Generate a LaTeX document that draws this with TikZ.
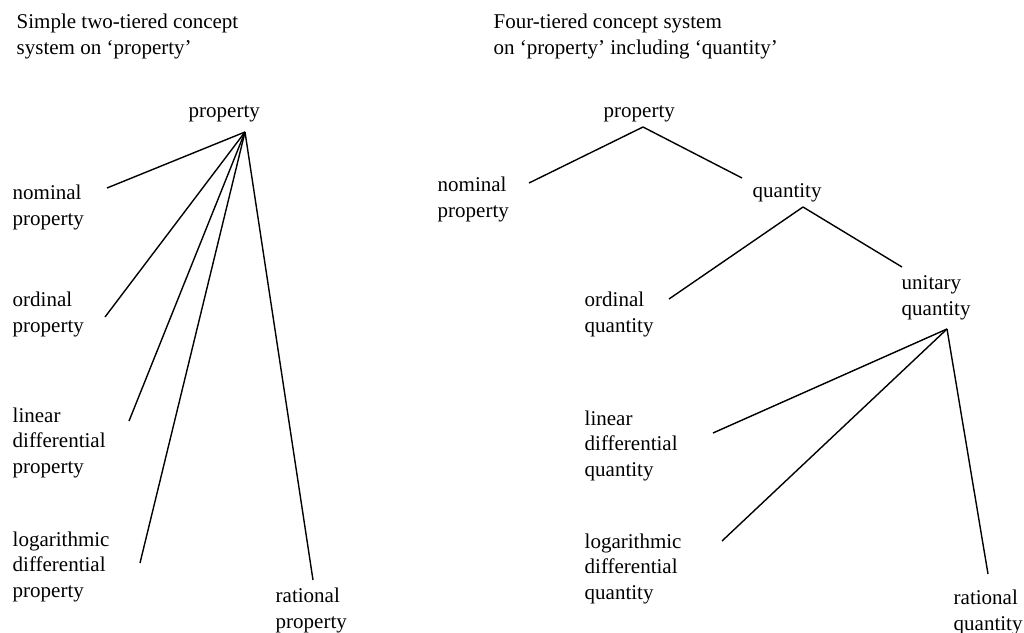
\documentclass[tikz,border=0pt]{standalone}
\usepackage{fontspec}
\setmainfont{Liberation Serif}
\usepackage{xcolor}

\begin{document}
\begin{tikzpicture}[x=1pt,y=-1pt,line width=1.4pt]
\tikzstyle{every node}+=[inner sep=0pt]
\tikzstyle{lbl}=[anchor=base west, align=left, font=\fontsize{21}{25.3}\selectfont]
\useasboundingbox (0,0) rectangle (1024,632);
% titles (base = last line)
\node [lbl] (ltitle) at (16,54) {Simple two-tiered concept\\system on ‘property’};
\node [lbl] (rtitle) at (493,54) {Four-tiered concept system\\on ‘property’ including ‘quantity’};
% two-tiered system
\node [lbl] (lprop) at (188,117) {property};
\node [lbl] (lnom) at (12,225) {nominal\\property};
\node [lbl] (lord) at (12,332) {ordinal\\property};
\node [lbl] (llin) at (12,473) {linear\\differential\\property};
\node [lbl] (llog) at (12,597) {logarithmic\\differential\\property};
\node [lbl] (lrat) at (275,628) {rational\\property};
\coordinate (lprop-b) at (245,132);
\coordinate (lnom-e) at (107,188);
\coordinate (lord-e) at (105,317);
\coordinate (llin-e) at (129,421);
\coordinate (llog-e) at (140,563);
\coordinate (lrat-e) at (313,580);
\draw [black] (lprop-b) -- (lnom-e);
\draw [black] (lprop-b) -- (lord-e);
\draw [black] (lprop-b) -- (llin-e);
\draw [black] (lprop-b) -- (llog-e);
\draw [black] (lprop-b) -- (lrat-e);
% four-tiered system
\node [lbl] (rprop) at (603,117) {property};
\node [lbl] (rnom) at (437,217) {nominal\\property};
\node [lbl] (rquant) at (752,197) {quantity};
\node [lbl] (rord) at (584,332) {ordinal\\quantity};
\node [lbl] (runit) at (901,315) {unitary\\quantity};
\node [lbl] (rlin) at (584,476) {linear\\differential\\quantity};
\node [lbl] (rlog) at (584,599) {logarithmic\\differential\\quantity};
\node [lbl] (rrat) at (953,630) {rational\\quantity};
\coordinate (rprop-b) at (643,127);
\coordinate (rnom-e) at (529,183);
\coordinate (rquant-t) at (742,178);
\coordinate (rquant-b) at (803,207);
\coordinate (rord-e) at (669,299);
\coordinate (runit-t) at (902,267);
\coordinate (runit-b) at (947,329);
\coordinate (rlin-e) at (713,433);
\coordinate (rlog-e) at (722,541);
\coordinate (rrat-e) at (988,574);
\draw [black] (rprop-b) -- (rnom-e);
\draw [black] (rprop-b) -- (rquant-t);
\draw [black] (rquant-b) -- (rord-e);
\draw [black] (rquant-b) -- (runit-t);
\draw [black] (runit-b) -- (rlin-e);
\draw [black] (runit-b) -- (rlog-e);
\draw [black] (runit-b) -- (rrat-e);
\end{tikzpicture}
\end{document}
